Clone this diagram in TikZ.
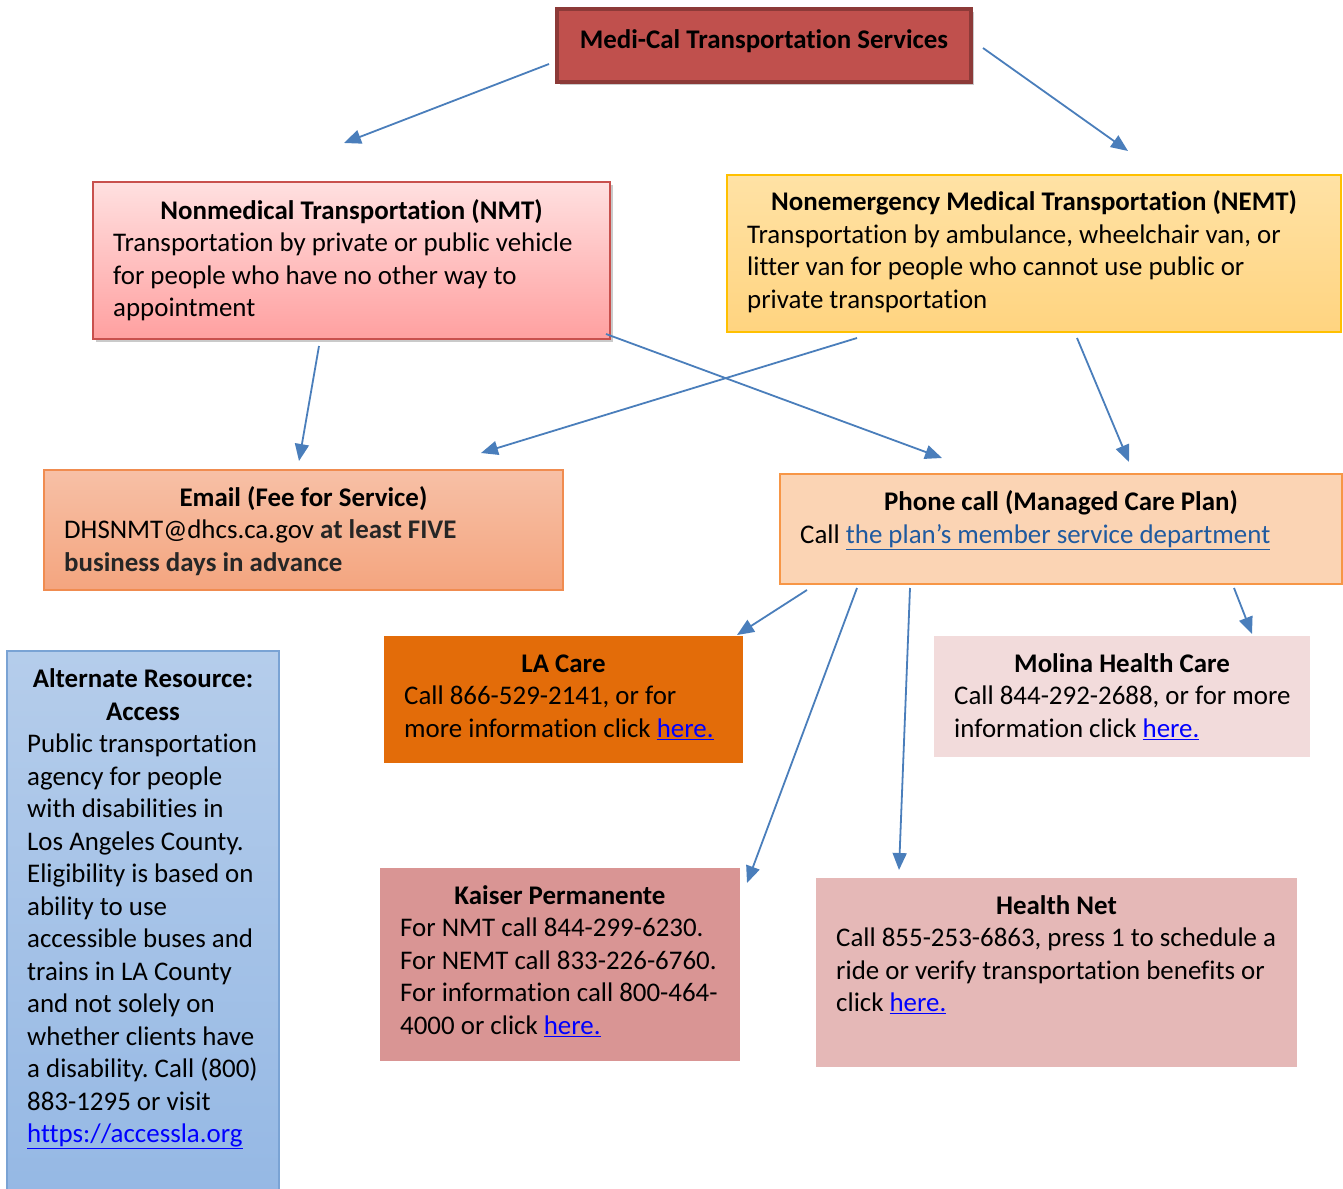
\documentclass[tikz,border=0pt]{standalone}
\usepackage{fontspec}
\setmainfont{Carlito}[Ligatures=NoCommon]
\usetikzlibrary{arrows.meta,shadows}
\definecolor{arr}{RGB}{74,126,187}
\definecolor{ttlfill}{RGB}{192,80,77}
\definecolor{ttlline}{RGB}{140,58,56}
\definecolor{nmttop}{RGB}{255,224,224}
\definecolor{nmtbot}{RGB}{255,160,160}
\definecolor{nmtline}{RGB}{200,80,77}
\definecolor{nemttop}{RGB}{255,226,165}
\definecolor{nemtbot}{RGB}{255,212,128}
\definecolor{nemtline}{RGB}{255,192,0}
\definecolor{emtop}{RGB}{247,192,166}
\definecolor{embot}{RGB}{244,165,127}
\definecolor{emline}{RGB}{240,140,80}
\definecolor{phfill}{RGB}{251,212,180}
\definecolor{phline}{RGB}{247,150,70}
\definecolor{lafill}{RGB}{227,108,9}
\definecolor{mofill}{RGB}{242,219,219}
\definecolor{alttop}{RGB}{181,205,235}
\definecolor{altbot}{RGB}{149,184,228}
\definecolor{altline}{RGB}{122,163,212}
\definecolor{kafill}{RGB}{217,149,148}
\definecolor{hnfill}{RGB}{229,184,183}
\definecolor{lk}{RGB}{0,0,255}
\definecolor{lkdark}{RGB}{31,90,160}
\definecolor{dgray}{RGB}{38,38,38}
\newcommand\mybox[6]{\node[#2, anchor=north west, inner sep=0pt, outer sep=0pt,
  minimum width={#5-#3}, minimum height={#6-#4}] (#1) at (#3,#4) {};}
\newcommand\hl[1]{\textcolor{lk}{\underline{#1}}}
\frenchspacing
\begin{document}
\begin{tikzpicture}[x=1pt,y=-1pt,
  every node/.style={font=\fontsize{26.9}{32.5}\selectfont},
  txt/.style={anchor=base west, inner sep=0pt},
  ttl/.style={anchor=base, inner sep=0pt, font=\fontsize{26.9}{32.5}\selectfont\bfseries},
  conn/.style={draw=arr, line width=1.8pt, -{Triangle[length=17pt,width=14pt]}},
  shad/.style={drop shadow={shadow xshift=3pt, shadow yshift=-3pt, fill=black!35, opacity=0.6}}]
\useasboundingbox (0,0) rectangle (1343,1188);

% boxes
\mybox{top}{draw=ttlline, line width=4pt, fill=ttlfill, shad}{557}{9}{971}{82}
\mybox{nmt}{draw=nmtline, line width=1.5pt, top color=nmttop, bottom color=nmtbot, shad}{93}{182}{610}{339}
\mybox{nemt}{draw=nemtline, line width=1.5pt, top color=nemttop, bottom color=nemtbot}{727}{175}{1341}{332}
\mybox{email}{draw=emline, line width=1.5pt, top color=emtop, bottom color=embot}{44}{470}{563}{590}
\mybox{phone}{draw=phline, line width=1.5pt, fill=phfill}{780}{474}{1342}{584}
\mybox{la}{fill=lafill}{384}{636}{743}{763}
\mybox{mol}{fill=mofill}{934}{636}{1310}{757}
\mybox{alt}{draw=altline, line width=1.5pt, top color=alttop, bottom color=altbot}{7}{651}{279}{1196}
\mybox{kai}{fill=kafill}{380}{868}{740}{1061}
\mybox{hn}{fill=hnfill}{816}{878}{1297}{1067}

% texts
\node[ttl] (topT) at (764,48.5) {Medi-Cal Transportation Services};

\node[ttl] (nmtT) at (351.5,219.5) {Nonmedical Transportation (NMT)};
\node[txt] (nmt1) at (113,251.5) {Transportation by private or public vehicle};
\node[txt] (nmt2) at (113,284.5) {for people who have no other way to};
\node[txt] (nmt3) at (113,316.5) {appointment};

\node[ttl] (nemtT) at (1034,210.5) {Nonemergency Medical Transportation (NEMT)};
\node[txt] (nemt1) at (747,243.5) {Transportation by ambulance, wheelchair van, or};
\node[txt] (nemt2) at (747,275.5) {litter van for people who cannot use public or};
\node[txt] (nemt3) at (747,308.5) {private transportation};

\node[ttl] (emailT) at (303.5,506.5) {Email (Fee for Service)};
\node[txt] (email1) at (64,538.5) {DHSNMT@dhcs.ca.gov \textcolor{dgray}{\bfseries at least FIVE}};
\node[txt] (email2) at (64,571.5) {\textcolor{dgray}{\bfseries business days in advance}};

\node[ttl] (phoneT) at (1061,510.5) {Phone call (Managed Care Plan)};
\node[txt] (phone1) at (800,543.5) {Call \textcolor{lkdark}{\underline{the plan’s member service department}}};

\node[ttl] (laT) at (563.5,672.5) {LA Care};
\node[txt] (la1) at (404,704.5) {Call 866-529-2141, or for};
\node[txt] (la2) at (404,737.5) {more information click \hl{here.}};

\node[ttl] (molT) at (1122,672.5) {Molina Health Care};
\node[txt] (mol1) at (954,704.5) {Call 844-292-2688, or for more};
\node[txt] (mol2) at (954,737.5) {information click \hl{here.}};

\node[ttl] (altT1) at (143,687.5) {Alternate Resource:};
\node[ttl] (altT2) at (143,720) {Access};
\node[txt] (alt1) at (27,752.5) {Public transportation};
\node[txt] (alt2) at (27,785) {agency for people};
\node[txt] (alt3) at (27,817.5) {with disabilities in};
\node[txt] (alt4) at (27,850) {Los Angeles County.};
\node[txt] (alt5) at (27,882.5) {Eligibility is based on};
\node[txt] (alt6) at (27,915) {ability to use};
\node[txt] (alt7) at (27,947.5) {accessible buses and};
\node[txt] (alt8) at (27,980) {trains in LA County};
\node[txt] (alt9) at (27,1012.5) {and not solely on};
\node[txt] (alt10) at (27,1045) {whether clients have};
\node[txt] (alt11) at (27,1077.5) {a disability. Call (800)};
\node[txt] (alt12) at (27,1110) {883-1295 or visit};
\node[txt] (alt13) at (27,1142.5) {\hl{https://accessla.org}};

\node[ttl] (kaiT) at (560,904.5) {Kaiser Permanente};
\node[txt] (kai1) at (400,936.5) {For NMT call 844-299-6230.};
\node[txt] (kai2) at (400,969.5) {For NEMT call 833-226-6760.};
\node[txt] (kai3) at (400,1001.5) {For information call 800-464-};
\node[txt] (kai4) at (400,1034.5) {4000 or click \hl{here.}};

\node[ttl] (hnT) at (1056.5,914.5) {Health Net};
\node[txt] (hn1) at (836,946.5) {Call 855-253-6863, press 1 to schedule a};
\node[txt] (hn2) at (836,979.5) {ride or verify transportation benefits or};
\node[txt] (hn3) at (836,1011.5) {click \hl{here.}};

% connector end points (free ends, as in the reference)
\coordinate (a1s) at (549,64);   \coordinate (a1e) at (344,143);
\coordinate (a2s) at (983,48);   \coordinate (a2e) at (1128,151);
\coordinate (a3s) at (319,346);  \coordinate (a3e) at (299,461);
\coordinate (a4s) at (606,334);  \coordinate (a4e) at (942,458);
\coordinate (a5s) at (857,338);  \coordinate (a5e) at (481,453);
\coordinate (a6s) at (1077,338); \coordinate (a6e) at (1129,462);
\coordinate (a7s) at (807,590);  \coordinate (a7e) at (737,635);
\coordinate (a8s) at (857,588);  \coordinate (a8e) at (747,883);
\coordinate (a9s) at (910,588);  \coordinate (a9e) at (899,870);
\coordinate (a10s) at (1234,588); \coordinate (a10e) at (1252,634);

\draw[conn] (a1s) -- (a1e);
\draw[conn] (a2s) -- (a2e);
\draw[conn] (a3s) -- (a3e);
\draw[conn] (a4s) -- (a4e);
\draw[conn] (a5s) -- (a5e);
\draw[conn] (a6s) -- (a6e);
\draw[conn] (a7s) -- (a7e);
\draw[conn] (a8s) -- (a8e);
\draw[conn] (a9s) -- (a9e);
\draw[conn] (a10s) -- (a10e);
\end{tikzpicture}
\end{document}
